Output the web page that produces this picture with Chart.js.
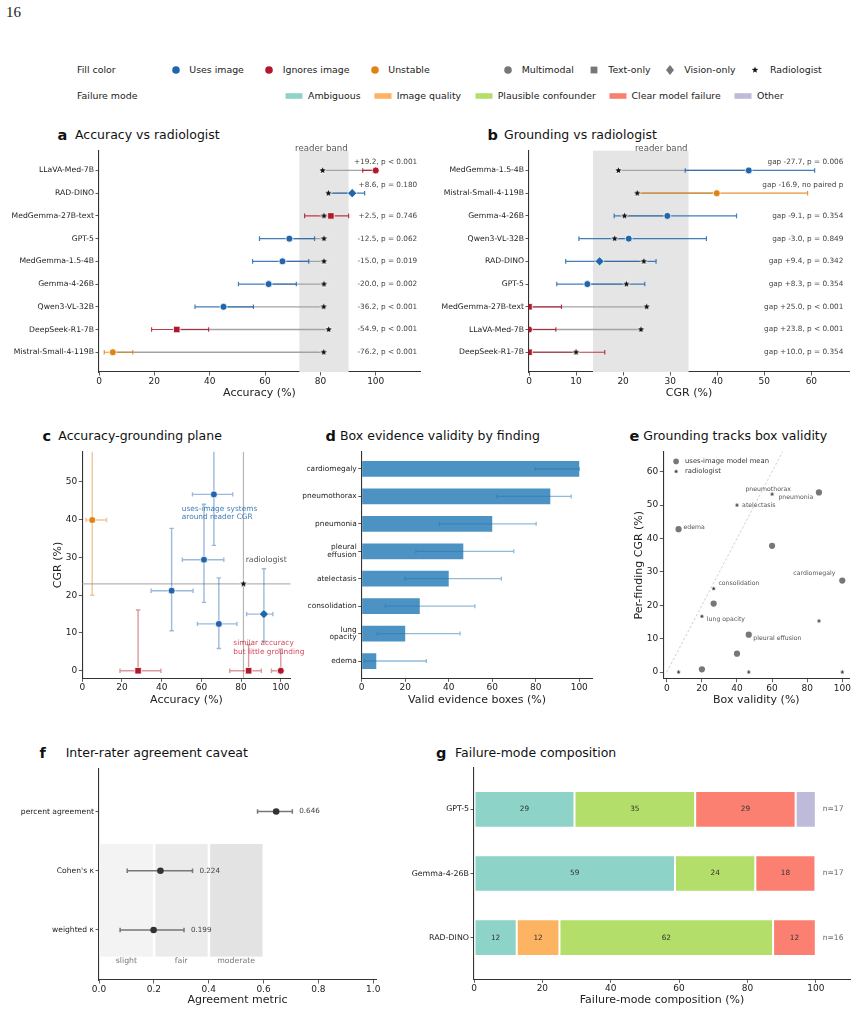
<!DOCTYPE html>
<html lang="en">
<head>
<meta charset="UTF-8">
<title>Grounding vs radiologist figure</title>
<script src="https://cdn.jsdelivr.net/npm/chart.js"></script>
<style>
  body { margin: 0; background: #fff; }
  #page { position: relative; width: 857px; height: 1014px; overflow: hidden; background: #fff;
          font-family: 'DejaVu Sans', sans-serif; color: #222; }
  #page canvas { position: absolute; }
  #page svg { display: block; }
  .t { position: absolute; white-space: nowrap; line-height: 1; }
</style>
</head>
<body>
<div id="page"></div>
<script>
// ---- model level data (panels a, b, c) ----
const models = ['LLaVA-Med-7B', 'RAD-DINO', 'MedGemma-27B-text', 'GPT-5', 'MedGemma-1.5-4B', 'Gemma-4-26B', 'Qwen3-VL-32B', 'DeepSeek-R1-7B', 'Mistral-Small-4-119B'];
const modelUse = ['ignores', 'uses', 'ignores', 'uses', 'uses', 'uses', 'uses', 'ignores', 'unstable'];
const modelKind = ['multimodal', 'vision', 'text', 'multimodal', 'multimodal', 'multimodal', 'multimodal', 'text', 'multimodal'];

const accuracy = [100, 91.5, 83.8, 68.8, 66.3, 61.3, 45.0, 28.1, 5.0];
const accuracyLo = [95.3, 82.8, 74.3, 58.0, 55.5, 50.4, 34.7, 19.0, 1.9];
const accuracyHi = [100, 96.0, 90.2, 77.9, 75.8, 71.3, 55.8, 39.6, 12.2];
const readerAccuracy = [80.8, 82.9, 81.3, 81.3, 81.3, 81.3, 81.2, 83.0, 81.2];
const accuracyNotes = ['+19.2, p < 0.001', '+8.6, p = 0.180', '+2.5, p = 0.746', '-12.5, p = 0.062', '-15.0, p = 0.019', '-20.0, p = 0.002', '-36.2, p < 0.001', '-54.9, p < 0.001', '-76.2, p < 0.001'];

const cgr = [0, 15.0, 0, 12.4, 46.7, 29.4, 21.2, 0, 39.9];
const cgrLo = [0, 7.8, 0, 5.9, 33.2, 18.1, 10.6, 0, 23.2];
const cgrHi = [5.7, 27.0, 6.9, 24.6, 60.7, 44.1, 37.7, 16.1, 59.2];
const planeCgrLo = [0, 7.8, 0, 5.9, 33.2, 18.1, 10.6, 0, 20.0];
const readerCgr = [23.8, 24.4, 25.0, 20.7, 19.0, 20.3, 18.2, 10.0, 23.0];
const cgrNotes = ['gap +23.8, p < 0.001', 'gap +9.4, p = 0.342', 'gap +25.0, p < 0.001', 'gap +8.3, p = 0.354', 'gap -27.7, p = 0.006', 'gap -9.1, p = 0.354', 'gap -3.0, p = 0.849', 'gap +10.0, p = 0.354', 'gap -16.9, no paired p'];

const accuracyOrder = ['LLaVA-Med-7B', 'RAD-DINO', 'MedGemma-27B-text', 'GPT-5', 'MedGemma-1.5-4B', 'Gemma-4-26B', 'Qwen3-VL-32B', 'DeepSeek-R1-7B', 'Mistral-Small-4-119B'];
const cgrOrder = ['MedGemma-1.5-4B', 'Mistral-Small-4-119B', 'Gemma-4-26B', 'Qwen3-VL-32B', 'RAD-DINO', 'GPT-5', 'MedGemma-27B-text', 'LLaVA-Med-7B', 'DeepSeek-R1-7B'];
const readerBandAccuracy = [72.4, 90.2];
const readerBandCgr = [13.6, 33.9];
const readerPlane = [81.2, 23.0];

// ---- finding level data (panels d, e) ----
const findings = ['cardiomegaly', 'pneumothorax', 'pneumonia', 'pleural effusion', 'atelectasis', 'consolidation', 'lung opacity', 'edema'];
const boxValid = [100, 86.7, 60.0, 46.7, 40.0, 26.7, 20.0, 6.7];
const boxValidLo = [79.8, 62.1, 35.7, 24.9, 19.9, 10.9, 7.2, 1.2];
const boxValidHi = [100, 96.3, 80.2, 69.9, 64.2, 52.0, 45.2, 29.7];
const findingModelCgr = [27.4, 53.8, 37.8, 11.2, 5.5, 20.5, 0.8, 42.8];
const findingReaderCgr = [0, 15.3, 53.3, 0, 50.0, 25.0, 16.7, 0];

// ---- agreement (panel f) ----
const agreementMetrics = ['percent agreement', "Cohen's κ", 'weighted κ'];
const agreementValue = [0.646, 0.224, 0.199];
const agreementLo = [0.578, 0.103, 0.077];
const agreementHi = [0.705, 0.341, 0.310];
const kappaBands = ['slight', 'fair', 'moderate'];
const kappaEdges = [0, 0.2, 0.4, 0.6];

// ---- failure modes (panel g) ----
const failureModels = ['GPT-5', 'Gemma-4-26B', 'RAD-DINO'];
const failureN = [17, 17, 16];
const failureModes = ['Ambiguous', 'Image quality', 'Plausible confounder', 'Clear model failure', 'Other'];
const ambiguousPct = [29.4, 58.8, 12.5];
const imageQualityPct = [0, 0, 12.5];
const plausiblePct = [35.3, 23.5, 62.5];
const clearFailurePct = [29.4, 17.6, 12.5];
const otherPct = [5.9, 0, 0];

// ---- styles ----
const useColors = { uses: '#2166ac', ignores: '#b2182b', unstable: '#e08214' };
const kindStyle = { multimodal: 'circle', text: 'rect', vision: 'rectRot' };
const kindRadius = { multimodal: 3.5, text: 4.6, vision: 4.6 };
const modeColors = ['#8dd3c7', '#fdb462', '#b3de69', '#fb8072', '#bebada'];

Chart.defaults.font.family = "'DejaVu Sans', sans-serif";
Chart.defaults.font.size = 9;
Chart.defaults.color = '#222';
Chart.defaults.animation = false;
Chart.defaults.plugins.legend.display = false;
Chart.defaults.plugins.tooltip.enabled = false;

const page = document.getElementById('page');

function addCanvas(x, y, w, h) {
  const c = document.createElement('canvas');
  c.width = w; c.height = h;
  c.style.left = x + 'px'; c.style.top = y + 'px';
  c.style.width = w + 'px'; c.style.height = h + 'px';
  page.appendChild(c);
  return c;
}

function addText(txt, x, baseline, size, o = {}) {
  const d = document.createElement('div');
  d.className = 't';
  d.textContent = txt;
  d.style.left = x + 'px';
  d.style.top = (baseline - 0.846 * size) + 'px';
  d.style.fontSize = size + 'px';
  if (o.bold) d.style.fontWeight = 'bold';
  if (o.family) d.style.fontFamily = o.family;
  if (o.color) d.style.color = o.color;
  page.appendChild(d);
}

function starPoints(r) {
  const pts = [];
  for (let k = 0; k < 10; k++) {
    const rr = k % 2 ? r * 0.4 : r;
    const a = -Math.PI / 2 + k * Math.PI / 5;
    pts.push([rr * Math.cos(a), rr * Math.sin(a)]);
  }
  return pts;
}

function starImage(r, fill, edge, edgeW) {
  const size = Math.ceil(2 * r + 2 * edgeW + 2);
  const c = document.createElement('canvas');
  c.width = c.height = size;
  const g = c.getContext('2d');
  g.beginPath();
  starPoints(r).forEach(([px, py], k) => k ? g.lineTo(size / 2 + px, size / 2 + py) : g.moveTo(size / 2 + px, size / 2 + py));
  g.closePath();
  if (edgeW) { g.lineJoin = 'round'; g.lineWidth = edgeW * 2; g.strokeStyle = edge; g.stroke(); }
  g.fillStyle = fill;
  g.fill();
  return c;
}
const starMarker = starImage(3.5, '#111', '#fff', 0.7);
const starSmall = starImage(2.2, '#222', null, 0);

function addMarker(cx, cy, shape, color) {
  const d = document.createElement('div');
  d.style.position = 'absolute';
  d.style.left = (cx - 6) + 'px'; d.style.top = (cy - 6) + 'px';
  d.style.width = '12px'; d.style.height = '12px';
  let inner = '';
  if (shape === 'circle') inner = `<circle cx="0" cy="0" r="3.8" fill="${color}"/>`;
  if (shape === 'square') inner = `<rect x="-3.4" y="-3.4" width="6.8" height="6.8" fill="${color}"/>`;
  if (shape === 'diamond') inner = `<polygon points="0,-5 4,0 0,5 -4,0" fill="${color}"/>`;
  if (shape === 'star') inner = `<polygon points="${starPoints(3.5).map(p => p.join(',')).join(' ')}" fill="${color}"/>`;
  if (shape === 'patch') inner = `<rect x="-8.5" y="-2.8" width="17" height="5.6" fill="${color}"/>`;
  d.innerHTML = `<svg width="12" height="12" viewBox="-6 -6 12 12" style="overflow:visible">${inner}</svg>`;
  page.appendChild(d);
}

function withAlpha(hex, a) {
  const n = parseInt(hex.slice(1), 16);
  return `rgba(${n >> 16},${(n >> 8) & 255},${n & 255},${a})`;
}

function roundHalfEven(v) {
  const f = Math.floor(v);
  if (Math.abs(v - f - 0.5) < 1e-9) return f % 2 === 0 ? f : f + 1;
  return Math.round(v);
}

function label(ctx, txt, x, y, size, color, align = 'left', baseline = 'middle') {
  ctx.font = `${size}px 'DejaVu Sans', sans-serif`;
  ctx.fillStyle = color;
  ctx.textAlign = align;
  ctx.textBaseline = baseline;
  ctx.fillText(txt, x, y);
}

function hErr(ctx, xs, lo, hi, py, cap, color, lw) {
  const a = xs.getPixelForValue(lo), b = xs.getPixelForValue(hi);
  ctx.strokeStyle = color; ctx.lineWidth = lw;
  ctx.beginPath();
  ctx.moveTo(a, py); ctx.lineTo(b, py);
  ctx.moveTo(a, py - cap); ctx.lineTo(a, py + cap);
  ctx.moveTo(b, py - cap); ctx.lineTo(b, py + cap);
  ctx.stroke();
}

function vErr(ctx, ys, lo, hi, px, cap, color, lw) {
  const a = ys.getPixelForValue(lo), b = ys.getPixelForValue(hi);
  ctx.strokeStyle = color; ctx.lineWidth = lw;
  ctx.beginPath();
  ctx.moveTo(px, a); ctx.lineTo(px, b);
  ctx.moveTo(px - cap, a); ctx.lineTo(px + cap, a);
  ctx.moveTo(px - cap, b); ctx.lineTo(px + cap, b);
  ctx.stroke();
}

// canvas rect + wanted plot rect (page coords) -> padding and fixed axis sizes
function frame(cx, cy, cw, ch, L, T, R, B) {
  return {
    canvas: addCanvas(cx, cy, cw, ch),
    yW: L - cx, xH: cy + ch - B,
    padding: { left: 0, top: T - cy, right: cx + cw - R, bottom: 0 }
  };
}

function linAxis(o) {
  const horizontal = o.axis === 'x';
  return {
    type: 'linear', min: o.min, max: o.max, reverse: !!o.reverse, offset: false,
    grid: { display: true, drawOnChartArea: false, drawTicks: true, tickLength: 3.5, tickWidth: 0.8, color: '#333', offset: false },
    border: { display: true, color: '#333', width: 1.1 },
    ticks: { font: { size: o.tickSize || 9, lineHeight: 1.05 }, color: '#222', padding: 1.5, autoSkip: false, maxRotation: 0, minRotation: 0,
             callback: o.label || (v => String(v)) },
    title: o.title ? { display: true, text: o.title, font: { size: 11 }, color: '#222', padding: o.titlePad } : { display: false },
    afterBuildTicks: s => { s.ticks = o.ticks.map(v => ({ value: v })); },
    afterFit: s => { if (horizontal) s.height = o.size; else s.width = o.size; }
  };
}

// ---------- page furniture ----------
addText('16', 6, 18, 15, { family: "'Liberation Serif', serif" });
const lg = 9.4, lgRow1 = 69.7, lgRow2 = 95.7;
addText('Fill color', 77, lgRow1 + 0.365 * lg, lg);
addText('Failure mode', 77, lgRow2 + 0.365 * lg, lg);
[['circle', useColors.uses, 175.7, 'Uses image', 189.3],
 ['circle', useColors.ignores, 269, 'Ignores image', 282.7],
 ['circle', useColors.unstable, 374.7, 'Unstable', 388.3],
 ['circle', '#777', 507.7, 'Multimodal', 521.7],
 ['square', '#777', 594.3, 'Text-only', 608.3],
 ['diamond', '#777', 670, 'Vision-only', 684.3],
 ['star', '#111', 755.3, 'Radiologist', 770]].forEach(([s, c, mx, t, tx]) => {
  addMarker(mx, lgRow1, s, c);
  addText(t, tx, lgRow1 + 0.365 * lg, lg);
});
[294, 382.7, 483.7, 617.5, 743].forEach((mx, i) => {
  addMarker(mx, lgRow2, 'patch', modeColors[i]);
  addText(failureModes[i], mx + 14, lgRow2 + 0.365 * lg, lg);
});

[['a', 57.5, 75, 140, 'Accuracy vs radiologist'],
 ['b', 487.5, 504, 140, 'Grounding vs radiologist'],
 ['c', 42.5, 58.3, 441, 'Accuracy-grounding plane'],
 ['d', 325.5, 340, 441, 'Box evidence validity by finding'],
 ['e', 629.5, 643.3, 441, 'Grounding tracks box validity'],
 ['f', 39.5, 65.7, 758, 'Inter-rater agreement caveat'],
 ['g', 436, 455, 758, 'Failure-mode composition']].forEach(([l, lx, tx, base, t]) => {
  addText(l, lx, base, 14.5, { bold: true, color: '#111' });
  addText(t, tx, base, 12.5, { color: '#111' });
});

// ---------- a / b forest panels ----------
function forestPlugin(order, value, lo, hi, reader, band, notes, noteAt, highAt) {
  const rows = order.map(n => models.indexOf(n));
  return {
    id: 'forest',
    beforeDatasetsDraw(chart) {
      const { ctx, chartArea: ca, scales: { x, y } } = chart;
      ctx.save();
      const b0 = x.getPixelForValue(band[0]), b1 = x.getPixelForValue(band[1]);
      ctx.fillStyle = '#e5e5e5';
      ctx.fillRect(b0, ca.top, b1 - b0, ca.bottom - ca.top);
      label(ctx, 'reader band', b1 - 1, ca.top - 1.5, 8.6, '#555', 'right');
      rows.forEach((m, r) => {
        const py = y.getPixelForValue(r);
        ctx.strokeStyle = '#a3a3a3'; ctx.lineWidth = 1.3;
        ctx.beginPath();
        ctx.moveTo(x.getPixelForValue(reader[m]), py);
        ctx.lineTo(x.getPixelForValue(value[m]), py);
        ctx.stroke();
        hErr(ctx, x, lo[m], hi[m], py, 2.3, withAlpha(useColors[modelUse[m]], 0.85), 1.2);
      });
      ctx.restore();
    },
    afterDatasetsDraw(chart) {
      const { ctx, scales: { x, y } } = chart;
      ctx.save();
      rows.forEach((m, r) => {
        const py = y.getPixelForValue(r) - (hi[m] > highAt ? 8.3 : 0);
        label(ctx, notes[m], x.getPixelForValue(noteAt), py, 7.3, '#444', 'right');
      });
      ctx.restore();
    }
  };
}

function forestChart(fr, order, value, lo, hi, reader, band, notes, xOpts, noteAt, clip) {
  const rows = order.map(n => models.indexOf(n));
  return new Chart(fr.canvas, {
    type: 'scatter',
    data: {
      datasets: [
        {
          data: rows.map((m, r) => ({ x: value[m], y: r })),
          pointStyle: rows.map(m => kindStyle[modelKind[m]]),
          pointRadius: rows.map(m => kindRadius[modelKind[m]]),
          backgroundColor: rows.map(m => useColors[modelUse[m]]),
          borderColor: '#fff', borderWidth: 0.8, clip: clip
        },
        {
          data: rows.map((m, r) => ({ x: reader[m], y: r })),
          pointStyle: starMarker, pointRadius: 3.5
        }
      ]
    },
    options: {
      responsive: false, devicePixelRatio: 1,
      layout: { padding: fr.padding },
      scales: {
        x: linAxis(Object.assign({ axis: 'x', size: fr.xH, titlePad: { top: 0, bottom: 5.1 } }, xOpts)),
        y: linAxis({ axis: 'y', min: -0.87, max: 8.87, reverse: true, ticks: rows.map((m, r) => r),
                     label: v => order[v], tickSize: 7.7, size: fr.yW })
      }
    },
    plugins: [forestPlugin(order, value, lo, hi, reader, band, notes, noteAt, xOpts.max * 0.8)]
  });
}

forestChart(frame(0, 140, 430, 265, 99, 150.7, 420, 372), accuracyOrder, accuracy, accuracyLo, accuracyHi,
  readerAccuracy, readerBandAccuracy, accuracyNotes,
  { min: 0, max: 116, ticks: [0, 20, 40, 60, 80, 100], title: 'Accuracy (%)' }, 115, undefined);

forestChart(frame(430, 140, 427, 265, 529, 150.7, 849, 372), cgrOrder, cgr, cgrLo, cgrHi,
  readerCgr, readerBandCgr, cgrNotes,
  { min: 0, max: 68, ticks: [0, 10, 20, 30, 40, 50, 60], title: 'CGR (%)' }, 66.8, 0);

// ---------- c accuracy-grounding plane ----------
const fc = frame(40, 443, 278, 267, 82.3, 451.7, 290.7, 678.3);
new Chart(fc.canvas, {
  type: 'scatter',
  data: {
    datasets: [
      {
        data: models.map((n, m) => ({ x: accuracy[m], y: cgr[m] })),
        pointStyle: models.map((n, m) => kindStyle[modelKind[m]]),
        pointRadius: models.map((n, m) => kindRadius[modelKind[m]]),
        backgroundColor: models.map((n, m) => useColors[modelUse[m]]),
        borderColor: '#fff', borderWidth: 0.8
      },
      { data: [{ x: readerPlane[0], y: readerPlane[1] }], pointStyle: starMarker, pointRadius: 3.5 }
    ]
  },
  options: {
    responsive: false, devicePixelRatio: 1,
    layout: { padding: fc.padding },
    scales: {
      x: linAxis({ axis: 'x', min: 0, max: 105, ticks: [0, 20, 40, 60, 80, 100], size: fc.xH, title: 'Accuracy (%)', titlePad: { top: 0, bottom: 3.4 } }),
      y: linAxis({ axis: 'y', min: -2, max: 58, ticks: [0, 10, 20, 30, 40, 50], size: fc.yW, title: 'CGR (%)', titlePad: { top: 11.7, bottom: 0 } })
    }
  },
  plugins: [{
    id: 'plane',
    beforeDatasetsDraw(chart) {
      const { ctx, chartArea: ca, scales: { x, y } } = chart;
      ctx.save();
      ctx.beginPath(); ctx.rect(ca.left, ca.top, ca.right - ca.left, ca.bottom - ca.top); ctx.clip();
      ctx.strokeStyle = '#b5b5b5'; ctx.lineWidth = 1.2;
      ctx.beginPath();
      ctx.moveTo(x.getPixelForValue(readerPlane[0]), ca.top); ctx.lineTo(x.getPixelForValue(readerPlane[0]), ca.bottom);
      ctx.moveTo(ca.left, y.getPixelForValue(readerPlane[1])); ctx.lineTo(ca.right, y.getPixelForValue(readerPlane[1]));
      ctx.stroke();
      models.forEach((n, m) => {
        const col = withAlpha(useColors[modelUse[m]], 0.45);
        hErr(ctx, x, accuracyLo[m], accuracyHi[m], y.getPixelForValue(cgr[m]), 2.2, col, 1.4);
        vErr(ctx, y, planeCgrLo[m], cgrHi[m], x.getPixelForValue(accuracy[m]), 2.2, col, 1.4);
      });
      ctx.restore();
    },
    afterDatasetsDraw(chart) {
      const { ctx, scales: { x, y } } = chart;
      ctx.save();
      label(ctx, 'radiologist', x.getPixelForValue(82.3), y.getPixelForValue(29.3), 7.8, '#555');
      ctx.globalAlpha = 0.85;
      label(ctx, 'uses-image systems', x.getPixelForValue(50.1), y.getPixelForValue(42.7), 7.4, useColors.uses);
      label(ctx, 'around reader CGR', x.getPixelForValue(50.1), y.getPixelForValue(40.6), 7.4, useColors.uses);
      label(ctx, 'similar accuracy', x.getPixelForValue(76.1), y.getPixelForValue(7.3), 7.4, '#c8283c');
      label(ctx, 'but little grounding', x.getPixelForValue(76.1), y.getPixelForValue(4.9), 7.4, '#c8283c');
      ctx.restore();
    }
  }]
});

// ---------- d box evidence validity ----------
const fd = frame(300, 443, 300, 267, 361.7, 451.7, 592.3, 678.3);
new Chart(fd.canvas, {
  type: 'bar',
  data: {
    datasets: [{
      data: boxValid.map((v, i) => ({ x: v, y: i })),
      backgroundColor: 'rgba(31,119,180,0.8)',
      barPercentage: 0.573, categoryPercentage: 1
    }]
  },
  options: {
    indexAxis: 'y',
    responsive: false, devicePixelRatio: 1,
    layout: { padding: fd.padding },
    scales: {
      x: linAxis({ axis: 'x', min: 0, max: 106, ticks: [0, 20, 40, 60, 80, 100], size: fd.xH, title: 'Valid evidence boxes (%)', titlePad: { top: 0, bottom: 3.4 } }),
      y: linAxis({ axis: 'y', min: -0.63, max: 7.63, reverse: true, ticks: findings.map((f, i) => i),
                   label: v => (findings[v] === 'pleural effusion' || findings[v] === 'lung opacity') ? findings[v].split(' ') : findings[v],
                   tickSize: 7.4, size: fd.yW })
    }
  },
  plugins: [{
    id: 'boxErr',
    afterDatasetsDraw(chart) {
      const { ctx, scales: { x, y } } = chart;
      ctx.save();
      findings.forEach((f, i) => hErr(ctx, x, boxValidLo[i], boxValidHi[i], y.getPixelForValue(i), 2, 'rgba(31,119,180,0.5)', 1.3));
      ctx.restore();
    }
  }]
});

// ---------- e grounding vs box validity ----------
const fe = frame(600, 443, 257, 267, 663.3, 451.7, 849.3, 678.7);
const findingLabelAt = [[72.1, 29.4], [44.8, 54.7], [63.6, 52.3], [49.3, 10.0], [42.9, 50.0], [29.4, 26.4], [22.8, 15.9], [9.5, 43.2]];
new Chart(fe.canvas, {
  type: 'scatter',
  data: {
    datasets: [
      { data: boxValid.map((v, i) => ({ x: v, y: findingModelCgr[i] })), pointRadius: 3.1, backgroundColor: '#777', borderWidth: 0 },
      { data: boxValid.map((v, i) => ({ x: v, y: findingReaderCgr[i] })), pointStyle: starSmall, pointRadius: 2.5 },
      { type: 'line', data: [{ x: 0, y: 0 }, { x: 100, y: 100 }], borderColor: '#c4c4c4', borderWidth: 0.8,
        borderDash: [2.5, 2], pointRadius: 0, clip: 0 }
    ]
  },
  options: {
    responsive: false, devicePixelRatio: 1,
    layout: { padding: fe.padding },
    scales: {
      x: linAxis({ axis: 'x', min: -2, max: 104, ticks: [0, 20, 40, 60, 80, 100], size: fe.xH, title: 'Box validity (%)', titlePad: { top: 0, bottom: 3.4 } }),
      y: linAxis({ axis: 'y', min: -2, max: 66, ticks: [0, 10, 20, 30, 40, 50, 60], size: fe.yW, title: 'Per-finding CGR (%)', titlePad: { top: 32.7, bottom: 0 } })
    }
  },
  plugins: [{
    id: 'findingLabels',
    afterDatasetsDraw(chart) {
      const { ctx, scales: { x, y } } = chart;
      ctx.save();
      findings.forEach((f, i) => label(ctx, f, x.getPixelForValue(findingLabelAt[i][0]), y.getPixelForValue(findingLabelAt[i][1]), 6.2, '#555'));
      const lx = x.getPixelForValue(5.3);
      ctx.fillStyle = '#777';
      ctx.beginPath(); ctx.arc(lx, y.getPixelForValue(63.1), 2.8, 0, Math.PI * 2); ctx.fill();
      ctx.drawImage(starSmall, lx - starSmall.width / 2, y.getPixelForValue(60.1) - starSmall.height / 2);
      label(ctx, 'uses-image model mean', x.getPixelForValue(10.4), y.getPixelForValue(63.1), 6.8, '#333');
      label(ctx, 'radiologist', x.getPixelForValue(10.4), y.getPixelForValue(60.1), 6.8, '#333');
      ctx.restore();
    }
  }]
});

// ---------- f inter-rater agreement ----------
const ff = frame(0, 760, 400, 254, 99, 768.3, 376, 980);
new Chart(ff.canvas, {
  type: 'scatter',
  data: {
    datasets: [{ data: agreementValue.map((v, i) => ({ x: v, y: i })), pointRadius: 3.3, backgroundColor: '#333', borderWidth: 0 }]
  },
  options: {
    responsive: false, devicePixelRatio: 1,
    layout: { padding: ff.padding },
    scales: {
      x: linAxis({ axis: 'x', min: 0, max: 1.01, ticks: [0, 0.2, 0.4, 0.6, 0.8, 1.0], label: v => v.toFixed(1),
                   size: ff.xH, title: 'Agreement metric', titlePad: { top: 0, bottom: 6.9 } }),
      y: linAxis({ axis: 'y', min: -0.73, max: 2.845, reverse: true, ticks: [0, 1, 2], label: v => agreementMetrics[v], tickSize: 7.6, size: ff.yW })
    }
  },
  plugins: [{
    id: 'agreement',
    beforeDatasetsDraw(chart) {
      const { ctx, scales: { x, y } } = chart;
      ctx.save();
      const bandFill = ['#f3f3f3', '#ebebeb', '#e3e3e3'];
      const yt = y.getPixelForValue(0.55), yb = y.getPixelForValue(2.45);
      kappaBands.forEach((b, i) => {
        const x0 = x.getPixelForValue(kappaEdges[i]) + (i ? 1.5 : 0);
        const x1 = x.getPixelForValue(kappaEdges[i + 1]) - 1;
        ctx.fillStyle = bandFill[i];
        ctx.fillRect(x0, yt, x1 - x0, yb - yt);
        label(ctx, b, x.getPixelForValue((kappaEdges[i] + kappaEdges[i + 1]) / 2), yb + 0.5, 7.8, '#777', 'center', 'top');
      });
      agreementMetrics.forEach((n, i) => hErr(ctx, x, agreementLo[i], agreementHi[i], y.getPixelForValue(i), 2.2, '#777', 1.5));
      ctx.restore();
    },
    afterDatasetsDraw(chart) {
      const { ctx, scales: { x, y } } = chart;
      ctx.save();
      agreementMetrics.forEach((n, i) => label(ctx, agreementValue[i].toFixed(3), x.getPixelForValue(agreementHi[i] + 0.025), y.getPixelForValue(i), 7.2, '#444'));
      ctx.restore();
    }
  }]
});

// ---------- g failure-mode composition ----------
const fg = frame(400, 760, 457, 254, 474, 767.7, 850, 979.3);
const modeSeries = [ambiguousPct, imageQualityPct, plausiblePct, clearFailurePct, otherPct];
new Chart(fg.canvas, {
  type: 'bar',
  data: {
    datasets: modeSeries.map((s, k) => ({
      label: failureModes[k],
      data: s.map((v, i) => ({ x: v, y: i })),
      backgroundColor: modeColors[k],
      borderColor: '#fff', borderWidth: 1, borderSkipped: false,
      barPercentage: 0.573, categoryPercentage: 1
    }))
  },
  options: {
    indexAxis: 'y',
    responsive: false, devicePixelRatio: 1,
    layout: { padding: fg.padding },
    scales: {
      x: Object.assign(linAxis({ axis: 'x', min: 0, max: 110, ticks: [0, 20, 40, 60, 80, 100], size: fg.xH,
                                 title: 'Failure-mode composition (%)', titlePad: { top: 0, bottom: 6.9 } }), { stacked: true }),
      y: Object.assign(linAxis({ axis: 'y', min: -0.65, max: 2.65, reverse: true, ticks: [0, 1, 2], label: v => failureModels[v],
                                 tickSize: 7.9, size: fg.yW }), { stacked: true })
    }
  },
  plugins: [{
    id: 'segLabels',
    afterDatasetsDraw(chart) {
      const { ctx, scales: { x, y } } = chart;
      ctx.save();
      modeSeries.forEach((s, k) => {
        chart.getDatasetMeta(k).data.forEach((el, i) => {
          if (s[i] < 8) return;
          const p = el.getProps(['x', 'y', 'base'], true);
          label(ctx, String(roundHalfEven(s[i])), (p.x + p.base) / 2, p.y, 7.3, '#333', 'center');
        });
      });
      failureModels.forEach((n, i) => label(ctx, 'n=' + failureN[i], x.getPixelForValue(102), y.getPixelForValue(i), 7.6, '#666'));
      ctx.restore();
    }
  }]
});
</script>
</body>
</html>
